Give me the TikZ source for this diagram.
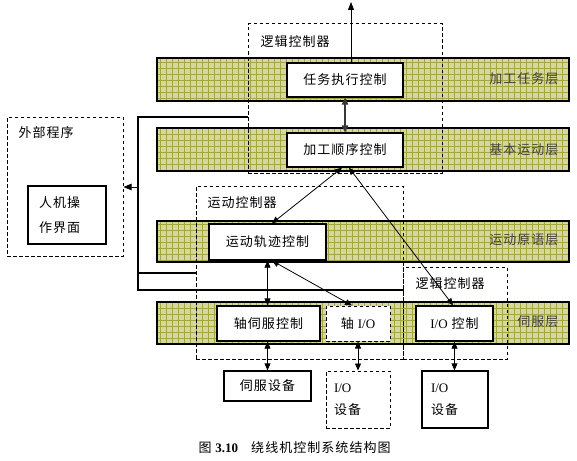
\documentclass[tikz,border=0pt]{standalone}
\usepackage{fontspec}
\setmainfont{Liberation Serif}
\newfontfamily\cjk{Noto Sans CJK SC}[LetterSpace=8]
\newfontfamily\lat{Liberation Serif}
\usetikzlibrary{arrows.meta}
\definecolor{bandfill}{RGB}{214,214,160}
\definecolor{gridc}{RGB}{165,165,70}
\begin{document}
\begin{tikzpicture}[x=1pt,y=-1pt,
  txt/.style={font=\cjk\fontsize{13}{15}\selectfont},
  box/.style={txt,draw=black,line width=1.3pt,fill=white,inner sep=0pt},
  dbox/.style={txt,draw=black,line width=1pt,dash pattern=on 3.5pt off 2.5pt,inner sep=0pt},
  dfbox/.style={dbox,fill=white},
  tip/.tip={Triangle[length=7pt,width=6pt]},
  conn/.style={line width=0.8pt,tip-tip},
  wire/.style={line width=1.4pt},
  blab/.style={txt,anchor=east,text=black!75}]
\useasboundingbox (0,0) rectangle (577,460);
% bands
\foreach \ya/\yb in {58/101,128/171,221/262,302/344}{
  \begin{scope}
    \clip (157,\ya) rectangle (569,\yb);
    \fill[bandfill] (157,\ya) rectangle (569,\yb);
    \foreach \x in {160,166,...,569} \draw[gridc,line width=0.45pt] (\x,\ya) -- (\x,\yb);
    \foreach \y in {2,8,...,460} \draw[gridc,line width=0.45pt] (157,\y) -- (569,\y);
  \end{scope}
  \draw[line width=1.6pt] (157,\ya) rectangle (569,\yb);
}
\node[blab] (L1) at (562,79) {加工任务层};
\node[blab] (L2) at (562,150) {基本运动层};
\node[blab] (L3) at (562,240) {运动原语层};
\node[blab] (L4) at (562,322) {伺服层};
% dashed containers
\node[dbox,minimum width=194,minimum height=149] (lc1) at (345,98.5) {};
\node[txt,anchor=west] (lc1t) at (257,42) {逻辑控制器};
\node[dbox,minimum width=207,minimum height=173] (mc) at (299.5,272.5) {};
\node[txt,anchor=west] (mct) at (204,203) {运动控制器};
\node[dbox,minimum width=104,minimum height=92] (lc2) at (455,313) {};
\node[txt,anchor=west] (lc2t) at (412,284) {逻辑控制器};
\node[dbox,minimum width=116,minimum height=139] (ext) at (65,186.5) {};
\node[txt,anchor=west] (extt) at (15,133) {外部程序};
% boxes
\node[box,minimum width=116,minimum height=34] (n1) at (345,80) {任务执行控制};
\node[box,minimum width=116,minimum height=34] (n2) at (345,150) {加工顺序控制};
\node[box,minimum width=117,minimum height=36] (n3) at (267.5,242) {运动轨迹控制};
\node[box,minimum width=103,minimum height=35] (n4) at (268.5,323.5) {轴伺服控制};
\node[dfbox,minimum width=64,minimum height=35] (n5) at (358,323.5) {轴 {\lat I/O}};
\node[box,minimum width=77,minimum height=35] (n6) at (454.5,323.5) {{\lat I/O} 控制};
\node[box,minimum width=78,minimum height=58,text width=56,inner xsep=11,align=left,font=\cjk\fontsize{13}{25}\selectfont] (hmi) at (67,215) {人机操\\作界面};
\node[box,minimum width=87,minimum height=30] (d1) at (267.5,386) {伺服设备};
\node[dfbox,minimum width=64,minimum height=57,text width=48,inner xsep=8,align=left,font=\cjk\fontsize{13}{22}\selectfont] (d2) at (358,399.5) {{\lat I/O}\\设备};
\node[box,minimum width=66,minimum height=57,text width=48,inner xsep=9,align=left,font=\cjk\fontsize{13}{22}\selectfont] (d3) at (455,399.5) {{\lat I/O}\\设备};
% connectors
\coordinate (top) at (351,2);
\draw[line width=0.8pt,-{Triangle[length=8pt,width=6pt]}] ([xshift=6]n1.north) -- (top);
\draw[line width=1.3pt,black!78,{Triangle[length=7pt,width=6.5pt]}-{Triangle[length=7pt,width=6.5pt]}] (n1) -- (n2);
\draw[conn] ([xshift=-3]n2.south) -- ([xshift=4.5]n3.north);
\draw[conn] ([xshift=4]n2.south) -- ([xshift=-1.5]n6.north);
\draw[conn] (n3.south) -- (n3.south |- n4.north);
\draw[conn] ([xshift=4.5]n3.south) -- ([xshift=-6]n5.north);
\draw[conn] (d1.north |- n4.south) -- (d1.north);
\draw[conn] (n5.south) -- (n5.south |- d2.north);
\draw[conn] (n6.south) -- (n6.south |- d3.north);
% left wires
\coordinate (j1) at (138,117);
\coordinate (j2) at (138,290);
\coordinate (j3) at (138,273);
\coordinate (j4) at (138,187);
\draw[wire] (lc1.west |- j1) -- (j1) -- (j2) -- (mc.east |- j2);
\draw[wire] (j3) -- (mc.west |- j3);
\draw[line width=0.8pt,-{Triangle[length=8pt,width=6.5pt]}] (j4) -- (ext.east |- j4);
% caption
\node[txt,anchor=west] (cap) at (195,448) {图 {\lat\bfseries 3.10}\quad 绕线机控制系统结构图};
\end{tikzpicture}
\end{document}
